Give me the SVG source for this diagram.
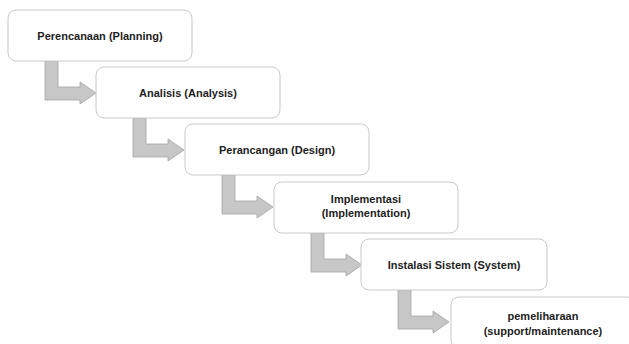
<svg xmlns="http://www.w3.org/2000/svg" xmlns:xlink="http://www.w3.org/1999/xlink" width="629" height="344" viewBox="0 0 629 344">
<style>
.box{fill:#ffffff;stroke:#c9c9c9;stroke-width:1}
.lbl{font-family:"Liberation Sans",Arial,sans-serif;font-weight:bold;font-size:11px;fill:#1e1e1e;text-anchor:middle}
.arr{fill:#c7c7c7;stroke:#a3a3a3;stroke-width:0.8}
</style>
<defs>
<path id="bend" class="arr" d="M37,51 L50,51 L50,77 L72,77 L72,72 L88,83 L72,94 L72,90 L37,90 Z"/>
</defs>
<rect width="629" height="344" fill="#ffffff"/>
<g id="connectors">
<use xlink:href="#bend" transform="translate(8,10)"/>
<use xlink:href="#bend" transform="translate(96,67)"/>
<use xlink:href="#bend" transform="translate(185,124)"/>
<use xlink:href="#bend" transform="translate(274,182)"/>
<use xlink:href="#bend" transform="translate(361,239)"/>
</g>
<g id="n1"><rect class="box" x="8" y="10" width="184" height="51" rx="8"/><text class="lbl" x="100" y="40">Perencanaan (Planning)</text></g>
<g id="n2"><rect class="box" x="96" y="67" width="184" height="51" rx="8"/><text class="lbl" x="188" y="97">Analisis (Analysis)</text></g>
<g id="n3"><rect class="box" x="185" y="124" width="184" height="51" rx="8"/><text class="lbl" x="277" y="154">Perancangan (Design)</text></g>
<g id="n4"><rect class="box" x="274" y="182" width="184" height="51" rx="8"/><text class="lbl" x="366" y="203">Implementasi</text><text class="lbl" x="366" y="217">(Implementation)</text></g>
<g id="n5"><rect class="box" x="361" y="239" width="186" height="51" rx="8"/><text class="lbl" x="454" y="269">Instalasi Sistem (System)</text></g>
<g id="n6"><rect class="box" x="451" y="297" width="184" height="51" rx="8"/><text class="lbl" x="543" y="320">pemeliharaan</text><text class="lbl" x="543" y="335">(support/maintenance)</text></g>
</svg>
